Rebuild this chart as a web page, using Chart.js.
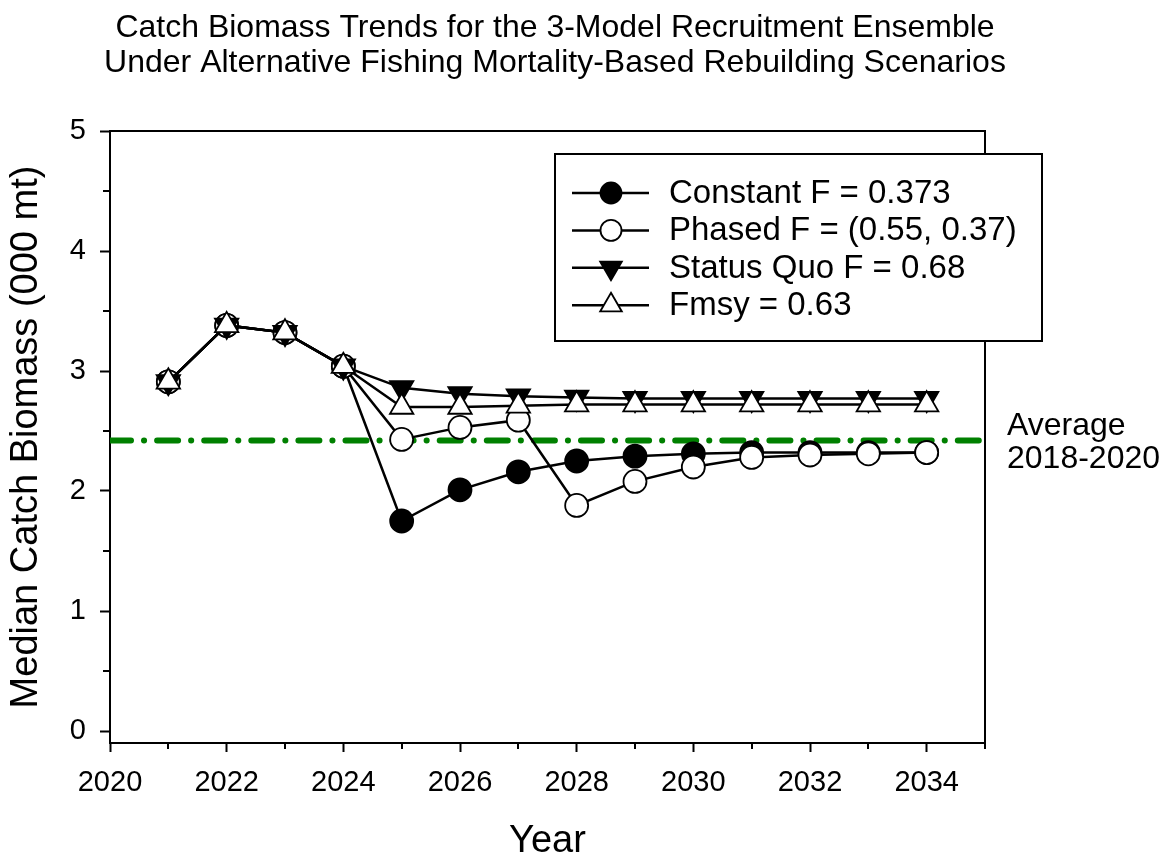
<!DOCTYPE html>
<html>
<head>
<meta charset="utf-8">
<title>Catch Biomass Trends</title>
<script src="https://cdn.jsdelivr.net/npm/chart.js@4.4.1/dist/chart.umd.min.js"></script>
<style>
  html, body { margin: 0; padding: 0; background: #ffffff; }
  #wrap { width: 1176px; height: 861px; position: relative; }
  canvas { display: block; }
</style>
</head>
<body>
<div id="wrap"><canvas id="chart" width="1176" height="861"></canvas></div>
<script>
// Projection years and median catch biomass (000 mt) per rebuilding scenario
const years = [2021, 2022, 2023, 2024, 2025, 2026, 2027, 2028, 2029, 2030, 2031, 2032, 2033, 2034];
const constantF = [2.91, 3.38, 3.32, 3.04, 1.75, 2.01, 2.16, 2.25, 2.29, 2.31, 2.32, 2.32, 2.32, 2.32];
const phasedF = [2.91, 3.38, 3.32, 3.04, 2.43, 2.53, 2.59, 1.88, 2.08, 2.20, 2.28, 2.30, 2.31, 2.32];
const statusQuoF = [2.91, 3.38, 3.32, 3.04, 2.86, 2.81, 2.79, 2.78, 2.77, 2.77, 2.77, 2.77, 2.77, 2.77];
const fmsyF = [2.91, 3.38, 3.32, 3.04, 2.70, 2.70, 2.71, 2.72, 2.72, 2.72, 2.72, 2.72, 2.72, 2.72];

const seriesLabels = ['Constant F = 0.373', 'Phased F = (0.55, 0.37)', 'Status Quo F = 0.68', 'Fmsy = 0.63'];

// Reference level: average catch 2018-2020
const averageYears = [2020, 2035];
const averageCatch = [2.42, 2.42];
const averageLabel = ['Average', '2018-2020'];

// Axis ticks
const xMajorTicks = [2020, 2022, 2024, 2026, 2028, 2030, 2032, 2034];
const xMinorTicks = [2021, 2023, 2025, 2027, 2029, 2031, 2033, 2035];
const yMajorTicks = [0, 1, 2, 3, 4, 5];
const yMinorTicks = [0.5, 1.5, 2.5, 3.5, 4.5];

const titleLines = [
  'Catch Biomass Trends for the 3-Model Recruitment Ensemble',
  'Under Alternative Fishing Mortality-Based Rebuilding Scenarios'
];

const FONT = '"Liberation Sans", Arial, Helvetica, sans-serif';
Chart.defaults.font.family = FONT;
Chart.defaults.color = '#000';

const toPoints = (xs, ys) => xs.map((x, i) => ({ x: x, y: ys[i] }));

const markerStyles = [
  { pointStyle: 'circle', rotation: 0, radius: 11.5, fill: '#000' },
  { pointStyle: 'circle', rotation: 0, radius: 11.5, fill: '#fff' },
  { pointStyle: 'triangle', rotation: 180, radius: 13.5, fill: '#000' },
  { pointStyle: 'triangle', rotation: 0, radius: 13.5, fill: '#fff' }
];

function scenarioDataset(i, values, order) {
  const m = markerStyles[i];
  return {
    label: seriesLabels[i],
    data: toPoints(years, values),
    borderColor: '#000',
    borderWidth: 2.5,
    pointStyle: m.pointStyle,
    pointRotation: m.rotation,
    pointRadius: m.radius,
    pointHoverRadius: m.radius,
    pointBackgroundColor: m.fill,
    pointBorderColor: '#000',
    pointBorderWidth: 1.8,
    tension: 0,
    order: order
  };
}

// Frame, minor ticks, legend box, title and reference-line caption
const decorations = {
  id: 'decorations',
  afterDraw(chart) {
    const { ctx, chartArea: a, scales: { x, y } } = chart;
    ctx.save();
    ctx.strokeStyle = '#000';
    ctx.lineWidth = 2;
    ctx.lineCap = 'butt';

    // top and right edges of the plot frame
    ctx.beginPath();
    ctx.moveTo(a.left - 1, a.top);
    ctx.lineTo(a.right, a.top);
    ctx.lineTo(a.right, a.bottom + 1);
    ctx.stroke();

    // minor tick marks
    ctx.beginPath();
    xMinorTicks.forEach(v => {
      const px = Math.round(x.getPixelForValue(v));
      ctx.moveTo(px, a.bottom);
      ctx.lineTo(px, a.bottom + 6);
    });
    yMinorTicks.forEach(v => {
      const py = Math.round(y.getPixelForValue(v));
      ctx.moveTo(a.left, py);
      ctx.lineTo(a.left - 7, py);
    });
    ctx.stroke();

    // legend box
    const box = { left: 555, top: 154, right: 1042, bottom: 341 };
    ctx.fillStyle = '#fff';
    ctx.fillRect(box.left, box.top, box.right - box.left, box.bottom - box.top);
    ctx.strokeRect(box.left, box.top, box.right - box.left, box.bottom - box.top);

    const legendMarkers = [
      { pointStyle: 'circle', rotation: 0, radius: 10.5, fill: '#000' },
      { pointStyle: 'circle', rotation: 0, radius: 10.5, fill: '#fff' },
      { pointStyle: 'triangle', rotation: 180, radius: 12.5, fill: '#000' },
      { pointStyle: 'triangle', rotation: 0, radius: 12.5, fill: '#fff' }
    ];
    ctx.font = '33px ' + FONT;
    ctx.textAlign = 'left';
    ctx.textBaseline = 'middle';
    seriesLabels.forEach((label, i) => {
      const cy = 193 + i * 37.4;
      ctx.strokeStyle = '#000';
      ctx.lineWidth = 2.5;
      ctx.beginPath();
      ctx.moveTo(572, cy);
      ctx.lineTo(649, cy);
      ctx.stroke();
      const m = legendMarkers[i];
      ctx.fillStyle = m.fill;
      ctx.lineWidth = 1.8;
      Chart.helpers.drawPoint(ctx, {
        pointStyle: m.pointStyle, rotation: m.rotation, radius: m.radius, borderWidth: 1.8
      }, 611, cy);
      ctx.fillStyle = '#000';
      ctx.fillText(label, 669, cy + 1);
    });

    // caption for the average-catch line
    ctx.fillStyle = '#000';
    ctx.font = '32px ' + FONT;
    ctx.textBaseline = 'alphabetic';
    ctx.fillText(averageLabel[0], 1007, 435);
    ctx.fillText(averageLabel[1], 1007, 468);

    // chart title
    ctx.font = '32px ' + FONT;
    ctx.textAlign = 'center';
    ctx.fillText(titleLines[0], 555, 37);
    ctx.fillText(titleLines[1], 555, 72);

    ctx.restore();
  }
};

new Chart(document.getElementById('chart'), {
  type: 'line',
  data: {
    datasets: [
      scenarioDataset(0, constantF, 3),
      scenarioDataset(1, phasedF, 2),
      scenarioDataset(2, statusQuoF, 1),
      scenarioDataset(3, fmsyF, 0),
      {
        label: 'Average 2018-2020',
        data: toPoints(averageYears, averageCatch),
        borderColor: '#008000',
        borderWidth: 6,
        borderDash: [21, 13, 0.1, 13],
        borderCapStyle: 'round',
        pointRadius: 0,
        pointHoverRadius: 0,
        tension: 0,
        order: 10
      }
    ]
  },
  options: {
    responsive: false,
    animation: false,
    devicePixelRatio: 1,
    events: [],
    layout: { padding: { top: 131, right: 191, bottom: 0, left: 0 } },
    plugins: {
      legend: { display: false },
      title: { display: false },
      tooltip: { enabled: false }
    },
    scales: {
      x: {
        type: 'linear',
        min: 2020,
        max: 2035,
        afterBuildTicks(scale) { scale.ticks = xMajorTicks.map(v => ({ value: v })); },
        afterFit(scale) { scale.height = 118; },
        border: { display: true, color: '#000', width: 2 },
        grid: { display: true, drawOnChartArea: false, drawTicks: true, tickLength: 9, tickWidth: 2, tickColor: '#000' },
        ticks: {
          autoSkip: false, maxRotation: 0, padding: 16, color: '#000',
          font: { size: 29, lineHeight: 1 },
          callback: v => String(v)
        },
        title: {
          display: true, text: 'Year', color: '#000',
          font: { size: 38, lineHeight: 1 }, padding: { top: 0, bottom: 0 }
        }
      },
      y: {
        type: 'linear',
        min: -0.1,
        max: 5,
        afterBuildTicks(scale) { scale.ticks = yMajorTicks.map(v => ({ value: v })); },
        afterFit(scale) { scale.width = 110; },
        border: { display: true, color: '#000', width: 2 },
        grid: { display: true, drawOnChartArea: false, drawTicks: true, tickLength: 10, tickWidth: 2, tickColor: '#000' },
        ticks: {
          autoSkip: false, padding: 14, color: '#000',
          font: { size: 29, lineHeight: 1 },
          callback: v => String(v)
        },
        title: {
          display: true, text: 'Median Catch Biomass (000 mt)', color: '#000',
          font: { size: 38, lineHeight: 1 }, padding: { top: 8, bottom: 0 }
        }
      }
    }
  },
  plugins: [decorations]
});
</script>
</body>
</html>
